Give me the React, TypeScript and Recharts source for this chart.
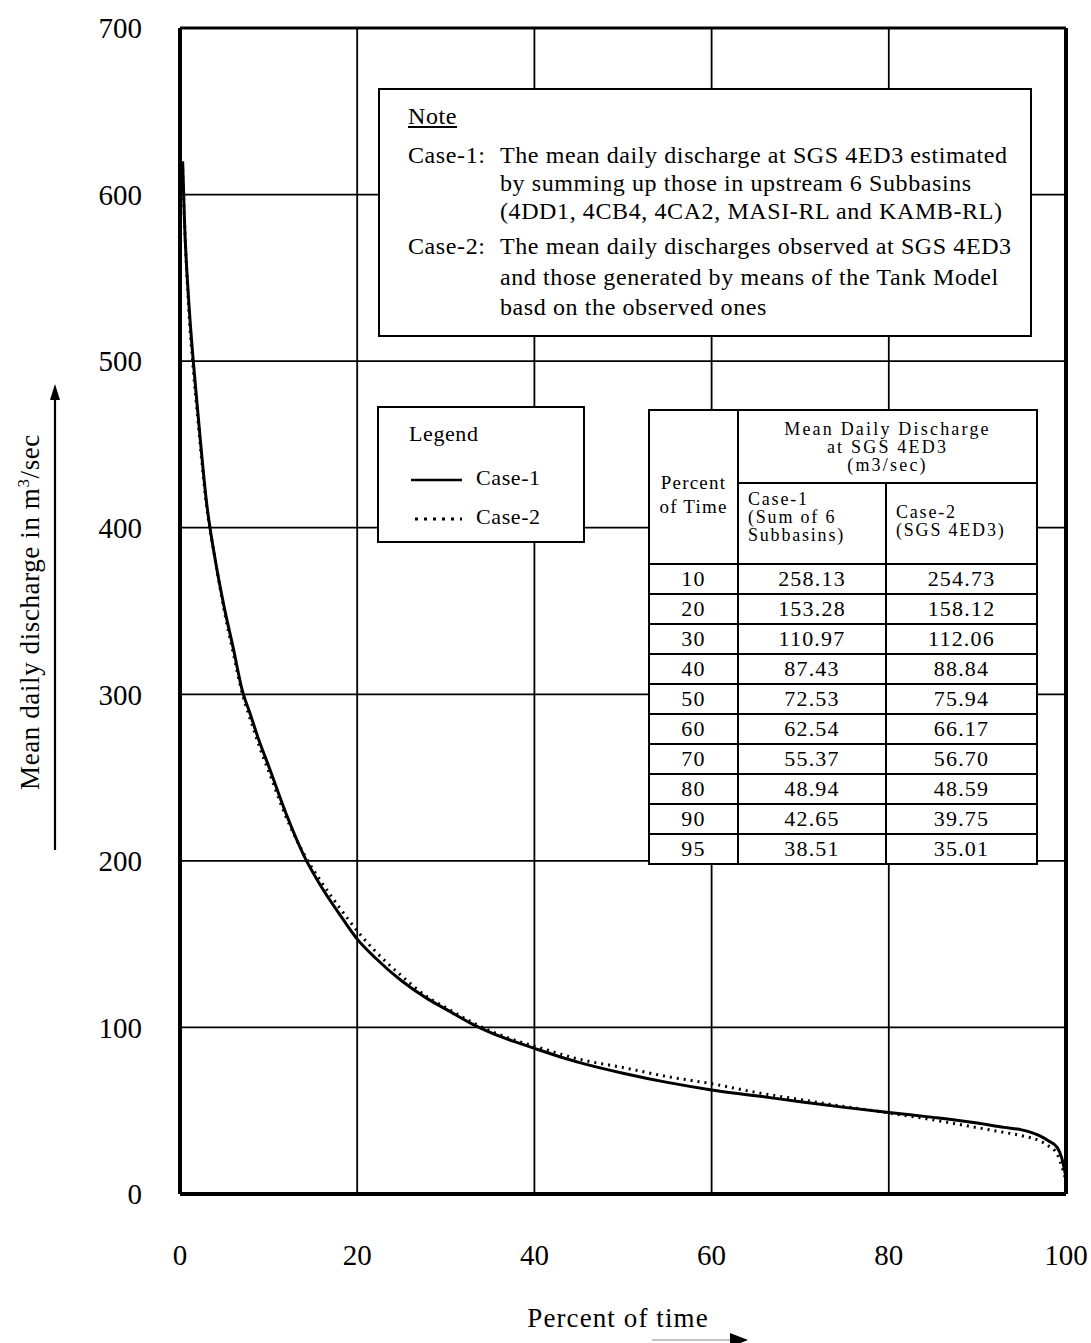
import React from 'react';
import { LineChart, Line, XAxis, YAxis, CartesianGrid, ReferenceLine } from 'recharts';

const percent = [0.3, 0.5, 1, 1.5, 2, 3, 4, 5, 6, 7, 8, 9, 10, 12, 14, 16, 18, 20, 22, 25, 28, 30, 33, 35, 38, 40, 45, 50, 55, 60, 65, 70, 75, 80, 85, 90, 93, 95, 97, 98, 99, 99.5, 100];
const case1 = [620, 585, 535, 500, 470, 415, 380, 352, 328, 303, 287, 271, 257, 228, 203, 184, 168, 153, 142, 128, 117, 111, 102, 97, 91, 87.4, 79, 72.5, 67, 62.5, 59, 55.4, 52, 48.9, 46, 42.6, 40, 38.5, 35, 32, 28, 22, 10];
const case2 = [615, 585, 530, 495, 466, 413, 380, 350, 325, 301, 284, 268, 254, 226, 204, 187, 172, 158, 146, 131, 118, 112, 103, 98, 92, 88.8, 81, 75.9, 70.5, 66.2, 61, 56.7, 52.5, 48.6, 44.5, 39.8, 37, 35, 32, 29, 24, 17, 8];

const xTicks = [0, 20, 40, 60, 80, 100];
const yTicks = [0, 100, 200, 300, 400, 500, 600, 700];

const tablePercent = ['10', '20', '30', '40', '50', '60', '70', '80', '90', '95'];
const tableCase1 = ['258.13', '153.28', '110.97', '87.43', '72.53', '62.54', '55.37', '48.94', '42.65', '38.51'];
const tableCase2 = ['254.73', '158.12', '112.06', '88.84', '75.94', '66.17', '56.70', '48.59', '39.75', '35.01'];

const noteLines: [string, string][] = [
  ['Case-1:', 'The mean daily discharge at SGS 4ED3 estimated'],
  ['', 'by summing up those in upstream 6 Subbasins'],
  ['', '(4DD1, 4CB4, 4CA2, MASI-RL and KAMB-RL)'],
  ['Case-2:', 'The mean daily discharges observed at SGS 4ED3'],
  ['', 'and those generated by means of the Tank Model'],
  ['', 'basd on the observed ones'],
];
const noteTops = [52, 80, 108, 143, 174, 204];

const data = percent.map((p, i) => ({ p, c1: case1[i], c2: case2[i] }));

const FONT = '"Liberation Serif", "Times New Roman", serif';

export default function App() {
  const cell: React.CSSProperties = { border: '2px solid #000', padding: 0, textAlign: 'center', height: 28, fontSize: 22, lineHeight: '28px', letterSpacing: 1.2 };
  const head: React.CSSProperties = { ...cell, fontSize: 18, lineHeight: '18px', letterSpacing: 1.8 };
  return (
    <div style={{ position: 'absolute', left: 0, top: 0, width: 1091, height: 1343, fontFamily: FONT, background: '#fff', color: '#000', overflow: 'hidden' }}>
      <LineChart width={1091} height={1343} data={data} margin={{ top: 28, right: 25, bottom: 89, left: 100 }}>
        <CartesianGrid stroke="#000" strokeWidth={1.8} horizontalValues={yTicks} verticalValues={xTicks} />
        <XAxis dataKey="p" type="number" domain={[0, 100]} ticks={xTicks} height={60} tickSize={0} tickMargin={50}
          axisLine={{ stroke: '#000', strokeWidth: 4 }} tick={{ fill: '#000', fontSize: 29, fontFamily: FONT }} />
        <YAxis type="number" domain={[0, 700]} ticks={yTicks} width={80} tickSize={0} tickMargin={38}
          axisLine={{ stroke: '#000', strokeWidth: 4 }} tick={{ fill: '#000', fontSize: 29, fontFamily: FONT }} />
        <ReferenceLine y={700} stroke="#000" strokeWidth={3} />
        <ReferenceLine x={100} stroke="#000" strokeWidth={4} />
        <Line dataKey="c2" type="monotone" stroke="#000" strokeWidth={3} strokeDasharray="2 5" dot={false} isAnimationActive={false} />
        <Line dataKey="c1" type="monotone" stroke="#000" strokeWidth={3} dot={false} isAnimationActive={false} />
      </LineChart>

      {/* Y axis title */}
      <div style={{ position: 'absolute', left: 30, top: 612, transform: 'translate(-50%, -50%) rotate(-90deg)', whiteSpace: 'nowrap', fontSize: 27, letterSpacing: 0.6 }}>
        Mean daily discharge in m<sup style={{ fontSize: 17 }}>3</sup>/sec
      </div>
      <svg style={{ position: 'absolute', left: 0, top: 0 }} width={1091} height={1343}>
        <line x1={55} y1={850} x2={55} y2={396} stroke="#000" strokeWidth={2.2} />
        <polygon points="55,384 50,400 60,400" fill="#000" />
        <line x1={652} y1={1340} x2={732} y2={1340} stroke="#888" strokeWidth={1} />
        <polygon points="748,1340 730,1333 730,1347" fill="#000" />
      </svg>

      {/* X axis title */}
      <div style={{ position: 'absolute', left: 618, top: 1318, transform: 'translate(-50%, -50%)', whiteSpace: 'nowrap', fontSize: 27, letterSpacing: 1.1 }}>
        Percent of time
      </div>

      {/* Note box */}
      <div style={{ position: 'absolute', left: 378, top: 88, width: 654, height: 249, border: '2.5px solid #000', boxSizing: 'border-box', background: '#fff', fontSize: 24, letterSpacing: 0.6 }}>
        <div style={{ position: 'absolute', left: 28, top: 13, textDecoration: 'underline' }}>Note</div>
        {noteLines.map(([lab, txt], i) => (
          <div key={i} style={{ position: 'absolute', left: 28, top: noteTops[i], whiteSpace: 'nowrap', display: 'flex' }}>
            <span style={{ width: 92, display: 'inline-block' }}>{lab}</span>
            <span>{txt}</span>
          </div>
        ))}
      </div>

      {/* Legend box */}
      <div style={{ position: 'absolute', left: 377, top: 406, width: 208, height: 137, border: '2.5px solid #000', boxSizing: 'border-box', background: '#fff', fontSize: 22, letterSpacing: 0.6 }}>
        <div style={{ position: 'absolute', left: 30, top: 13 }}>Legend</div>
        <svg style={{ position: 'absolute', left: 0, top: 0 }} width={200} height={130}>
          <line x1={32} y1={72} x2={83} y2={72} stroke="#000" strokeWidth={2.5} />
          <line x1={36} y1={111} x2={83} y2={111} stroke="#000" strokeWidth={3} strokeDasharray="3 6" />
        </svg>
        <div style={{ position: 'absolute', left: 97, top: 57 }}>Case-1</div>
        <div style={{ position: 'absolute', left: 97, top: 96 }}>Case-2</div>
      </div>

      {/* Table */}
      <table style={{ position: 'absolute', left: 648, top: 409, width: 388, borderCollapse: 'collapse', tableLayout: 'fixed', background: '#fff', fontFamily: FONT }}>
        <colgroup>
          <col style={{ width: 89 }} />
          <col style={{ width: 148 }} />
          <col style={{ width: 151 }} />
        </colgroup>
        <tbody>
          <tr>
            <td rowSpan={2} style={{ ...head, fontSize: 19, lineHeight: '24px', letterSpacing: 1.2, paddingTop: 16 }}>Percent<br />of Time</td>
            <td colSpan={2} style={{ ...head, height: 71, letterSpacing: 2.2 }}>Mean Daily Discharge<br />at SGS 4ED3<br />(m3/sec)</td>
          </tr>
          <tr>
            <td style={{ ...head, height: 65, textAlign: 'left', paddingLeft: 9, paddingBottom: 14 }}>Case-1<br />(Sum of 6<br />Subbasins)</td>
            <td style={{ ...head, height: 73, textAlign: 'left', paddingLeft: 9, paddingBottom: 6 }}>Case-2<br />(SGS 4ED3)</td>
          </tr>
          {tablePercent.map((p, i) => (
            <tr key={p}>
              <td style={cell}>{p}</td>
              <td style={cell}>{tableCase1[i]}</td>
              <td style={cell}>{tableCase2[i]}</td>
            </tr>
          ))}
        </tbody>
      </table>
    </div>
  );
}
